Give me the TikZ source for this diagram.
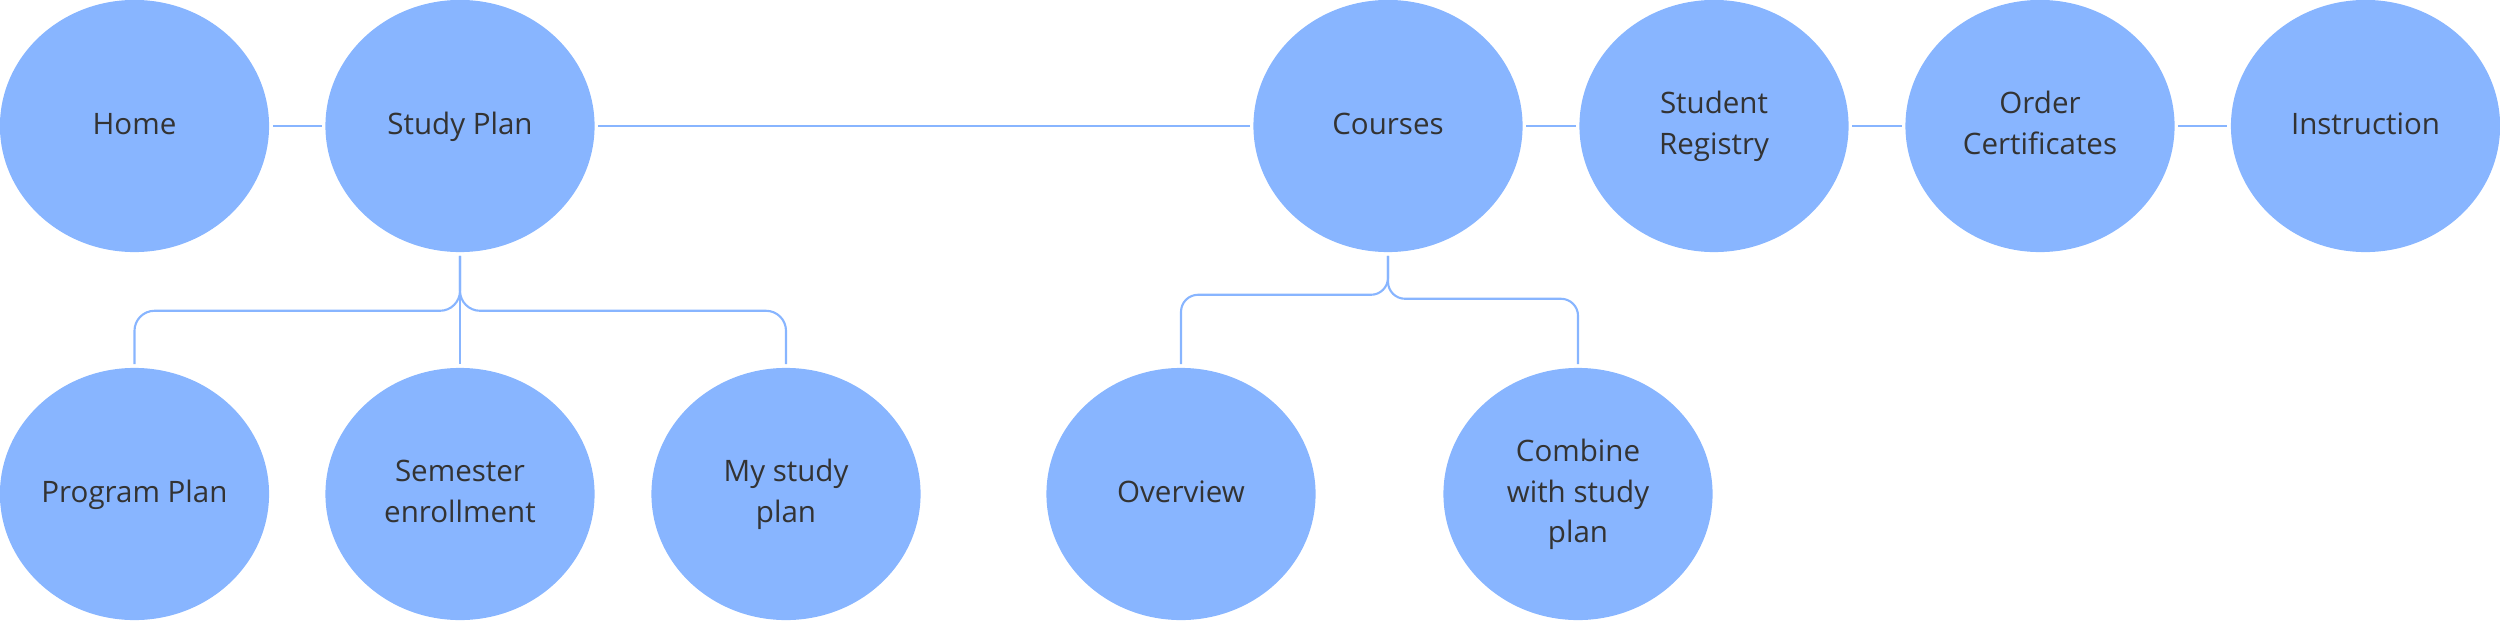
\documentclass[tikz,border=0pt]{standalone}
\usepackage{fontspec}
\setmainfont{Open Sans}
\usepackage{tikz}
\usetikzlibrary{shapes.geometric, positioning}
\definecolor{pageblue}{HTML}{88B5FF}
\definecolor{pagetext}{HTML}{333333}

\begin{document}
\begin{tikzpicture}[x=0.01cm,y=-0.01cm,
    page/.style={ellipse,fill=pageblue,text=pagetext,minimum width=2.69cm,minimum height=2.52cm,
        inner sep=0pt,align=center,font=\fontsize{8.4}{11.4}\selectfont},
    link/.style={draw=pageblue,line width=0.6pt,shorten <=0.03cm,shorten >=0.03cm},
    branch/.style={link,rounded corners=0.2cm}]
\useasboundingbox (0,0) rectangle (2500,621);

% top menu
\node[page] (home) at (134.5,126) {\strut Home};
\node[page] (plan) at (460,126) {\strut Study Plan};
\node[page] (courses) at (1388,126) {\strut Courses};
\node[page] (registry) at (1714,126) {\strut Student\\\strut Registry};
\node[page] (certs) at (2040,126) {\strut Order\\\strut Certificates};
\node[page] (instr) at (2365.5,126) {\strut Instruction};

% sub pages
\node[page] (program) at (134.5,494) {\strut Program Plan};
\node[page] (semester) at (460,494) {\strut Semester\\\strut enrollment};
\node[page] (myplan) at (786,494) {\strut My study\\\strut plan};
\node[page] (overview) at (1181,494) {\strut Overview};
\node[page] (combine) at (1578,494) {\strut Combine\\\strut with study\\\strut plan};

\path[link]
    (home) edge (plan)
    (plan) edge (courses)
    (courses) edge (registry)
    (registry) edge (certs)
    (certs) edge (instr)
    (plan) edge (semester);
\draw[branch] (plan.south) -- ++(0,58) -| (program.north);
\draw[branch] (plan.south) -- ++(0,58) -| (myplan.north);
\draw[branch,rounded corners=0.17cm] (courses.south) -- ++(0,42) -| (overview.north);
\draw[branch,rounded corners=0.17cm] (courses.south) -- ++(0,46) -| (combine.north);
\end{tikzpicture}
\end{document}
